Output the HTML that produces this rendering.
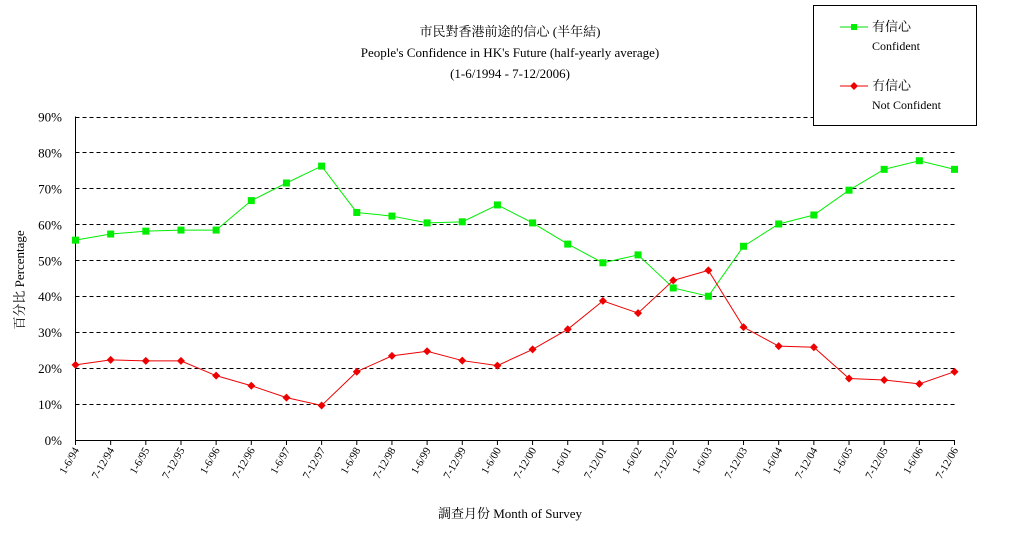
<!DOCTYPE html>
<html><head><meta charset="utf-8"><style>
body{margin:0;background:#fff;}
svg text{font-family:"Liberation Serif","Noto Serif CJK SC","Noto Sans CJK TC",serif;fill:#000;}
</style></head><body>
<svg id="chart" width="1020" height="546" xmlns="http://www.w3.org/2000/svg">
<g>
<text x="510" y="36" font-size="13" text-anchor="middle">市民對香港前途的信心 (半年結)</text>
<text x="510" y="57" font-size="13" text-anchor="middle">People's Confidence in HK's Future (half-yearly average)</text>
<text x="510" y="78" font-size="13" text-anchor="middle">(1-6/1994 - 7-12/2006)</text>
</g>
<g id="grid"></g>
<g id="axes"></g>
<g id="series"></g>
<text transform="translate(24,280) rotate(-90)" font-size="13" text-anchor="middle">百分比 Percentage</text>
<text x="510" y="518" font-size="13" text-anchor="middle">調查月份 Month of Survey</text>
<g>
<rect x="813.5" y="5.5" width="163" height="120" fill="#fff" stroke="#000"/>
<g>
<line x1="840" y1="27" x2="868" y2="27" stroke="#00dd00"/>
<rect x="851" y="24" width="6" height="6" fill="#00ee00"/>
<text x="872" y="31" font-size="13">有信心</text>
<text x="872" y="50" font-size="12">Confident</text>
</g>
<g>
<line x1="840" y1="86" x2="868" y2="86" stroke="#ee0000"/>
<polygon points="854,82 858,86 854,90 850,86" fill="#ee0000"/>
<text x="872" y="90" font-size="13">冇信心</text>
<text x="872" y="109" font-size="12">Not Confident</text>
</g>
</g>
</svg>
<script>
const categories=["1-6/94","7-12/94","1-6/95","7-12/95","1-6/96","7-12/96","1-6/97","7-12/97","1-6/98","7-12/98","1-6/99","7-12/99","1-6/00","7-12/00","1-6/01","7-12/01","1-6/02","7-12/02","1-6/03","7-12/03","1-6/04","7-12/04","1-6/05","7-12/05","1-6/06","7-12/06"];
const confident=[55.6,57.3,58.1,58.4,58.4,66.6,71.5,76.2,63.3,62.3,60.4,60.7,65.4,60.4,54.5,49.3,51.5,42.3,40.0,53.9,60.1,62.6,69.5,75.3,77.7,75.3];
const notConfident=[20.9,22.3,22.0,22.0,17.9,15.1,11.8,9.6,19.0,23.4,24.7,22.1,20.7,25.2,30.8,38.7,35.3,44.4,47.2,31.4,26.1,25.8,17.1,16.7,15.6,19.0];
const yTicks=[0,10,20,30,40,50,60,70,80,90];
const NS="http://www.w3.org/2000/svg";
const X0=75.5,X1=954.5,Y0=440,Y90=116.5;
const x=i=>X0+i*(X1-X0)/(categories.length-1);
const y=v=>Y0-(v/90)*(Y0-Y90);
function mk(tag,attrs,parent){const e=document.createElementNS(NS,tag);for(const k in attrs)e.setAttribute(k,attrs[k]);parent.appendChild(e);return e;}
const grid=document.getElementById('grid'),axes=document.getElementById('axes'),series=document.getElementById('series');
yTicks.forEach(t=>{
 if(t>0){const l=mk('line',{x1:X0,x2:X1,y1:Math.round(y(t))+0.5,y2:Math.round(y(t))+0.5,stroke:'#000','stroke-dasharray':'4,3'},grid);
 
 }
 const tx=mk('text',{x:62,y:y(t)+5,'font-size':13,'text-anchor':'end'},axes);tx.textContent=t+'%';
 
 
});
mk('line',{x1:X0,x2:X0,y1:Y90,y2:Y0,stroke:'#000'},axes);
mk('line',{x1:X0,x2:X1,y1:Y0+0.5,y2:Y0+0.5,stroke:'#000'},axes);
categories.forEach((c,i)=>{
 mk('line',{x1:x(i),x2:x(i),y1:Y0,y2:Y0+5,stroke:'#000'},axes);
 const tx=mk('text',{transform:`translate(${x(i)+4},${Y0+10}) rotate(-60)`,'font-size':11,'text-anchor':'end'},axes);tx.textContent=c;
 
 
});
function draw(vals,color,shape,name){
 const pl=mk('polyline',{points:vals.map((v,i)=>x(i)+','+y(v)).join(' '),fill:'none',stroke:color,'stroke-width':1},series);
 
 
 vals.forEach((v,i)=>{
  let m;
  if(shape==='sq')m=mk('rect',{x:x(i)-3.5,y:y(v)-3.5,width:7,height:7,fill:color},series);
  else m=mk('polygon',{points:`${x(i)},${y(v)-4} ${x(i)+4},${y(v)} ${x(i)},${y(v)+4} ${x(i)-4},${y(v)}`,fill:color},series);
  
  
 });
}
draw(confident,'#00ee00','sq','confident');
draw(notConfident,'#ee0000','dia','not-confident');
</script>
</body></html>
